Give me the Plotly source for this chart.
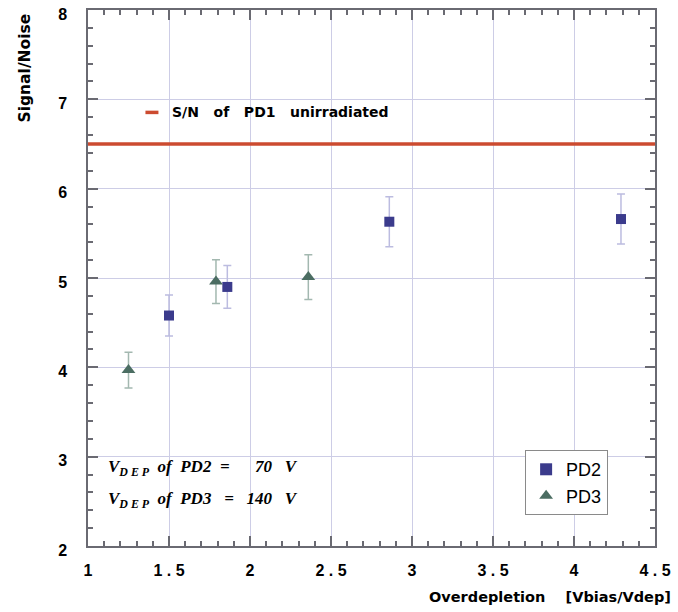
import plotly.graph_objects as go

# ---- data ----
pd2_x = [1.50, 1.86, 2.86, 4.29]
pd2_y = [4.58, 4.90, 5.63, 5.66]
pd2_err = [0.23, 0.24, 0.28, 0.28]

pd3_x = [1.25, 1.79, 2.36]
pd3_y = [3.97, 4.96, 5.01]
pd3_err = [0.20, 0.245, 0.25]

ref_x = [1.0, 4.5]
ref_y = [6.5, 6.5]
ref_label = "S/N   of   PD1   unirradiated"

x_ticks = [1, 1.5, 2, 2.5, 3, 3.5, 4, 4.5]
x_ticktext = ["1", "1 . 5", "2", "2 . 5", "3", "3 . 5", "4", "4 . 5"]
y_ticks = [2, 3, 4, 5, 6, 7, 8]

RED = "#cc4b30"
BLUE = "#3b3b8c"
GREEN = "#4b6d62"
GRID = "#cdcde6"
AX = "#6a6a72"
TITLE_FONT = "DejaVu Sans, Verdana, sans-serif"

fig = go.Figure()
fig.add_trace(go.Scatter(x=ref_x, y=ref_y, mode="lines", line=dict(color=RED, width=3.5),
                         showlegend=False, hoverinfo="skip"))
fig.add_trace(go.Scatter(x=pd2_x, y=pd2_y, mode="markers", name="PD2",
                         marker=dict(symbol="square", size=10, color=BLUE),
                         error_y=dict(type="data", array=pd2_err, color="#bcbce0", thickness=1.5, width=4)))
fig.add_trace(go.Scatter(x=pd3_x, y=pd3_y, mode="markers", name="PD3",
                         marker=dict(symbol="triangle-up", size=12, color=GREEN),
                         error_y=dict(type="data", array=pd3_err, color="#a3b8b0", thickness=1.5, width=4)))

L, R, T, B = 87.5, 23, 9.5, 66
W, H = 678, 612
pw, ph = W - L - R, H - T - B

def px(x):
    return (x - L) / pw

def py(y):
    return (H - B - y) / ph

fig.update_layout(
    width=W, height=H,
    margin=dict(l=L, r=R, t=T, b=B, autoexpand=False),
    plot_bgcolor="white", paper_bgcolor="white",
    font=dict(family="Liberation Sans, Arial, sans-serif", color="black"),
    showlegend=True,
    legend=dict(x=px(525), y=py(450), xanchor="left", yanchor="top",
                bordercolor="#8a8a8a", borderwidth=1, bgcolor="white",
                font=dict(size=18, family="Liberation Sans, Arial"), itemwidth=30,
                tracegroupgap=0, itemsizing="constant"),
    xaxis=dict(range=[1, 4.5], tickvals=x_ticks, ticktext=x_ticktext, automargin=False,
               showgrid=True, gridcolor=GRID, gridwidth=1,
               showline=True, linecolor=AX, linewidth=1.5, mirror="ticks",
               ticks="inside", ticklen=10, tickcolor=AX, tickwidth=1.5,
               minor=dict(ticks="inside", ticklen=5, dtick=0.1, tickcolor=AX, showgrid=False),
               tickfont=dict(size=16, weight="bold"), ticklabelstandoff=9,
               zeroline=False),
    yaxis=dict(range=[2, 8], tickvals=y_ticks, automargin=False,
               showgrid=True, gridcolor=GRID, gridwidth=1,
               showline=True, linecolor=AX, linewidth=1.5, mirror="ticks",
               ticks="inside", ticklen=10, tickcolor=AX, tickwidth=1.5,
               minor=dict(ticks="inside", ticklen=5, dtick=0.2, tickcolor=AX, showgrid=False),
               tickfont=dict(size=16, weight="bold"), ticklabelstandoff=16, ticklabelshift=4,
               ticklabeloverflow="allow", zeroline=False),
)

SERIF = "Liberation Serif, Times New Roman, serif"
annotations = [
    dict(text="Overdepletion    [Vbias/Vdep]", x=px(673), y=py(597), xanchor="right", yanchor="middle",
         font=dict(size=14.5, weight="bold", family=TITLE_FONT)),
    dict(text="Signal/Noise", x=px(24), y=py(67.5), textangle=-90, xanchor="center", yanchor="middle",
         font=dict(size=15.5, weight="bold", family=TITLE_FONT)),
    dict(text=ref_label, x=px(170), y=py(112), xanchor="left", yanchor="middle",
         font=dict(size=14, weight="bold", family=TITLE_FONT)),
    dict(text="V<sub>D E P</sub>  of  PD2  =      70   V", x=px(106), y=py(468), xanchor="left", yanchor="middle",
         font=dict(size=17, family=SERIF, weight="bold", style="italic")),
    dict(text="V<sub>D E P</sub>  of  PD3   =   140   V", x=px(106), y=py(500), xanchor="left", yanchor="middle",
         font=dict(size=17, family=SERIF, weight="bold", style="italic")),
]
for a in annotations:
    a.update(xref="paper", yref="paper", showarrow=False)
fig.update_layout(annotations=annotations)

fig.add_shape(type="line", xref="paper", yref="paper", x0=px(145), x1=px(158), y0=py(112), y1=py(112),
              line=dict(color=RED, width=3.5))

fig.write_html("out.html")
